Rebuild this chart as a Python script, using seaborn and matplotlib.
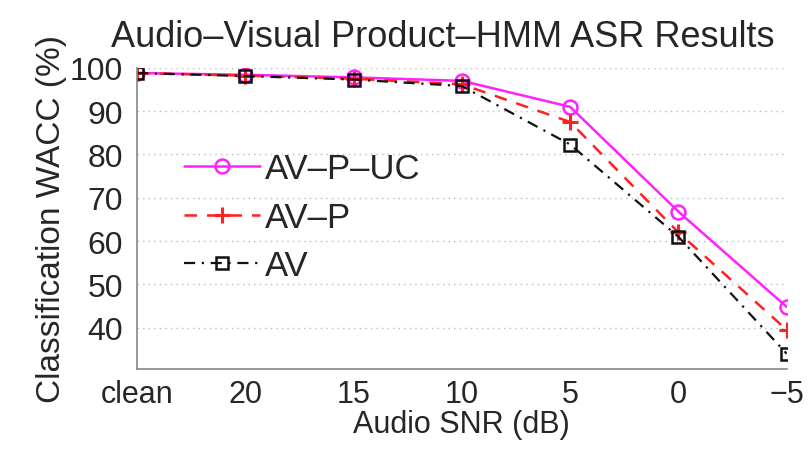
import numpy as np
import pandas as pd
import matplotlib
matplotlib.use("Agg")
import matplotlib.pyplot as plt
import seaborn as sns

categories = ["clean", "20", "15", "10", "5", "0", "\u22125"]
av_p_uc = [98.8, 98.4, 97.8, 97.0, 91.0, 66.8, 44.8]
av_p = [98.8, 98.2, 97.5, 96.2, 87.5, 62.0, 39.5]
av = [98.8, 98.1, 97.3, 95.8, 82.3, 61.0, 34.0]
series_names = ["AV\u2013P\u2013UC", "AV\u2013P", "AV"]
yticks = [40, 50, 60, 70, 80, 90, 100]

sns.set_theme(style="white")
plt.rcParams["font.family"] = ["Liberation Sans", "DejaVu Sans"]

fig = plt.figure(figsize=(8.11, 4.56), dpi=100)
ax = fig.add_axes([0.169, 0.189, 0.801, 0.66])

x = np.arange(len(categories))
styles = [
    dict(color="#ff22ff", linestyle="-", marker="o", mfc="none", mec="#ff22ff", ms=10, mew=1.8, lw=1.8),
    dict(color="#ff2020", linestyle=(0, (5, 4)), marker="+", mec="#ff2020", ms=11, mew=2.2, lw=1.8),
    dict(color="#111111", linestyle=(0, (5, 3, 1, 3)), marker="s", mfc="none", mec="#111111", ms=8, mew=1.8, lw=1.6),
]
for name, vals, st in zip(series_names, [av_p_uc, av_p, av], styles):
    df = pd.DataFrame({"x": x, "y": vals})
    sns.lineplot(data=df, x="x", y="y", ax=ax, label=name, **st)

ax.set_xlim(x[0], x[-1])
ax.set_ylim(30.5, 100)
ax.set_xticks(x)
ax.set_xticklabels(categories)
ax.set_yticks(yticks)
ax.tick_params(axis="both", direction="in", length=4, labelsize=23, pad=5, color="#777777")
ax.tick_params(axis="y", pad=10)
ax.tick_params(axis="x", labelsize=22, pad=7)
ax.yaxis.grid(True, linestyle=(0, (1, 3)), color="#bbbbbb", linewidth=1.0)
ax.xaxis.grid(False)
for side in ["top", "right"]:
    ax.spines[side].set_visible(False)
for side in ["left", "bottom"]:
    ax.spines[side].set_color("#888888")
    ax.spines[side].set_linewidth(1.2)

ax.set_xlabel("Audio SNR (dB)", fontsize=22, labelpad=0)
ax.set_ylabel("Classification WACC (%)", fontsize=24, labelpad=2)
ax.set_title("Audio\u2013Visual Product\u2013HMM ASR Results", fontsize=26, pad=16, x=0.47)

leg = ax.legend(loc="upper left", bbox_to_anchor=(0.072, 0.72), frameon=False, fontsize=25,
                handlelength=2.2, handletextpad=0.15, labelspacing=0.45,
                borderaxespad=0, borderpad=0)

fig.savefig("out.png", dpi=100)
